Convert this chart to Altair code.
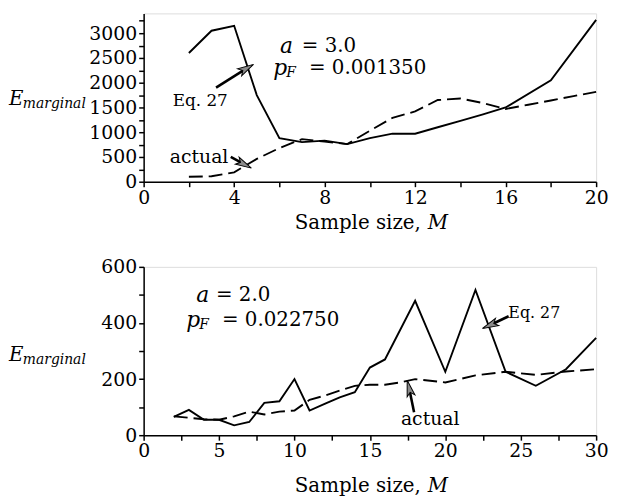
import altair as alt
import pandas as pd

FONT = "DejaVu Serif"

# ---------------- data ----------------
top_m_eq = [2, 3, 4, 5, 6, 7, 8, 9, 10, 11, 12, 13, 14, 15, 16, 18, 20]
top_eq = [2600, 3050, 3150, 1750, 880, 800, 830, 760, 880, 970, 970, 1100, 1230, 1360, 1500, 2050, 3270]
top_m_act = [2, 3, 4, 5, 6, 7, 8, 9, 10, 11, 12, 13, 14, 15, 16, 17, 18, 19, 20]
top_act = [100, 110, 190, 460, 680, 860, 810, 760, 1030, 1290, 1420, 1650, 1680, 1590, 1470, 1555, 1640, 1730, 1815]

bot_m_eq = [2, 3, 4, 5, 6, 7, 8, 9, 10, 11, 12, 13, 14, 15, 16, 18, 20, 22, 24, 26, 28, 30]
bot_eq = [65, 90, 55, 55, 35, 47, 115, 121, 200, 88, 112, 135, 153, 241, 270, 479, 226, 518, 226, 176, 235, 347]
bot_m_act = [2, 3, 4, 5, 6, 7, 8, 9, 10, 11, 12, 13, 14, 15, 16, 17, 18, 20, 22, 24, 26, 28, 30]
bot_act = [67, 62, 57, 55, 67, 84, 74, 84, 88, 126, 141, 159, 176, 180, 180, 188, 200, 188, 213, 226, 215, 227, 235]

top_x_ticks = list(range(0, 21, 2))
top_y_ticks = list(range(0, 3401, 250))
bot_x_ticks = [i * 2.5 for i in range(13)]
bot_y_ticks = list(range(0, 601, 100))

ARROW = "M0,-1L0.5,1L0,0.55L-0.5,1Z"

# ---------------- helpers ----------------
def axis(values, expr):
    return alt.Axis(values=values, labelExpr=expr, format="d", title=None, grid=False,
                    labelFont=FONT, labelFontSize=19, labelColor="black", labelPadding=2,
                    labelOverlap=False, labelFlush=False, tickSize=5, tickWidth=1.5,
                    tickColor="black", domainColor="black", domainWidth=1.5)


def panel(xdom, ydom, xticks, yticks, xmod, ymod, m_eq, eq, m_act, act, anns, arrows,
          title_y, e_y):
    X = lambda f="m": alt.X(f + ":Q", scale=alt.Scale(domain=xdom, nice=False, zero=False),
                            axis=axis(xticks, f"datum.value % {xmod} == 0 ? datum.label : ''"))
    Y = lambda f="v": alt.Y(f + ":Q", scale=alt.Scale(domain=ydom, nice=False),
                            axis=axis(yticks, f"datum.value % {ymod} == 0 ? datum.label : ''"))
    eq_df = pd.DataFrame({"m": m_eq, "v": eq})
    act_df = pd.DataFrame({"m": m_act, "v": act})
    layers = [
        alt.Chart(eq_df).mark_line(color="black", strokeWidth=1.9).encode(x=X(), y=Y()),
        alt.Chart(act_df).mark_line(color="black", strokeWidth=1.9, strokeDash=[14, 6]).encode(x=X(), y=Y()),
    ]
    # arrows
    for (x1, y1, x2, y2, ang) in arrows:
        adf = pd.DataFrame({"m": [x1], "v": [y1], "m2": [x2], "v2": [y2]})
        layers.append(alt.Chart(adf).mark_rule(color="black", strokeWidth=2.6).encode(
            x=X(), y=Y(), x2="m2:Q", y2="v2:Q"))
        hdf = pd.DataFrame({"m": [x2], "v": [y2]})
        layers.append(alt.Chart(hdf).mark_point(shape=ARROW, filled=True, fill="#8a8a8a",
                                                stroke="black", strokeWidth=1, size=260, angle=ang,
                                                opacity=1).encode(x=X(), y=Y()))
    # annotation texts
    for (t, x, y, size, style, align, dx, dy) in anns:
        tdf = pd.DataFrame({"m": [x], "v": [y], "t": [t]})
        layers.append(alt.Chart(tdf).mark_text(font=FONT, fontSize=size, fontStyle=style, align=align,
                                               baseline="middle", dx=dx, dy=dy, color="black").encode(
            x=X(), y=Y(), text="t:N"))
    # axis titles as text
    one = pd.DataFrame({"t": ["x"]})
    def ptxt(t, x, y, size, style, align):
        return alt.Chart(one).mark_text(font=FONT, fontSize=size, fontStyle=style, align=align,
                                        baseline="alphabetic", color="black").encode(
            x=alt.value(x), y=alt.value(y), text=alt.value(t))
    layers += [
        ptxt("Sample size,", 280, title_y, 20, "normal", "right"),
        ptxt("M", 287, title_y, 20, "italic", "left"),
        ptxt("E", -136, e_y, 20, "italic", "left"),
        ptxt("marginal", -122, e_y + 3, 14, "italic", "left"),
    ]
    return alt.layer(*layers).properties(width=457, height=170)


top_anns = [
    ("a", 6.03, 2742, 22, "italic", "left", 0, 0),
    ("= 3.0", 6.03, 2742, 20, "normal", "left", 22, 0),
    ("p", 5.73, 2302, 22, "italic", "left", 0, 0),
    ("F", 5.73, 2302, 14, "italic", "left", 13, 5),
    ("= 0.001350", 5.73, 2302, 20, "normal", "left", 36, 0),
    ("Eq. 27", 2.5, 1630, 17, "normal", "center", 0, 0),
    ("actual", 2.45, 508, 19, "normal", "center", 0, 0),
]
top_arrows = [
    (3.2, 1900, 4.55, 2290, 60),
    (3.85, 500, 4.45, 350, 118),
]
bot_anns = [
    ("a", 3.48, 500, 22, "italic", "left", 0, 0),
    ("= 2.0", 3.48, 500, 20, "normal", "left", 20, 0),
    ("p", 2.83, 412, 22, "italic", "left", 0, 0),
    ("F", 2.83, 412, 14, "italic", "left", 13, 5),
    ("= 0.022750", 2.83, 412, 20, "normal", "left", 36, 0),
    ("Eq. 27", 25.9, 435, 16, "normal", "center", 0, 0),
    ("actual", 19.0, 59, 19, "normal", "center", 0, 0),
]
bot_arrows = [
    (24.2, 424, 22.95, 392, 246),
    (17.93, 82, 17.6, 168, 346),
]

top = panel([0, 20], [0, 3400], top_x_ticks, top_y_ticks, 4, 500, top_m_eq, top_eq,
            top_m_act, top_act, top_anns, top_arrows, 218, 93)
bot = panel([0, 30], [0, 600], bot_x_ticks, bot_y_ticks, 5, 200, bot_m_eq, bot_eq,
            bot_m_act, bot_act, bot_anns, bot_arrows, 227, 95)

chart = alt.vconcat(top, bot, spacing=86, bounds="flush").properties(
    padding={"left": 0, "top": 0, "right": 0, "bottom": 0}
).configure_view(stroke="black", strokeWidth=1.5).configure(background="white")

chart.save("out.html", embed_options={"renderer": "svg", "actions": False})
